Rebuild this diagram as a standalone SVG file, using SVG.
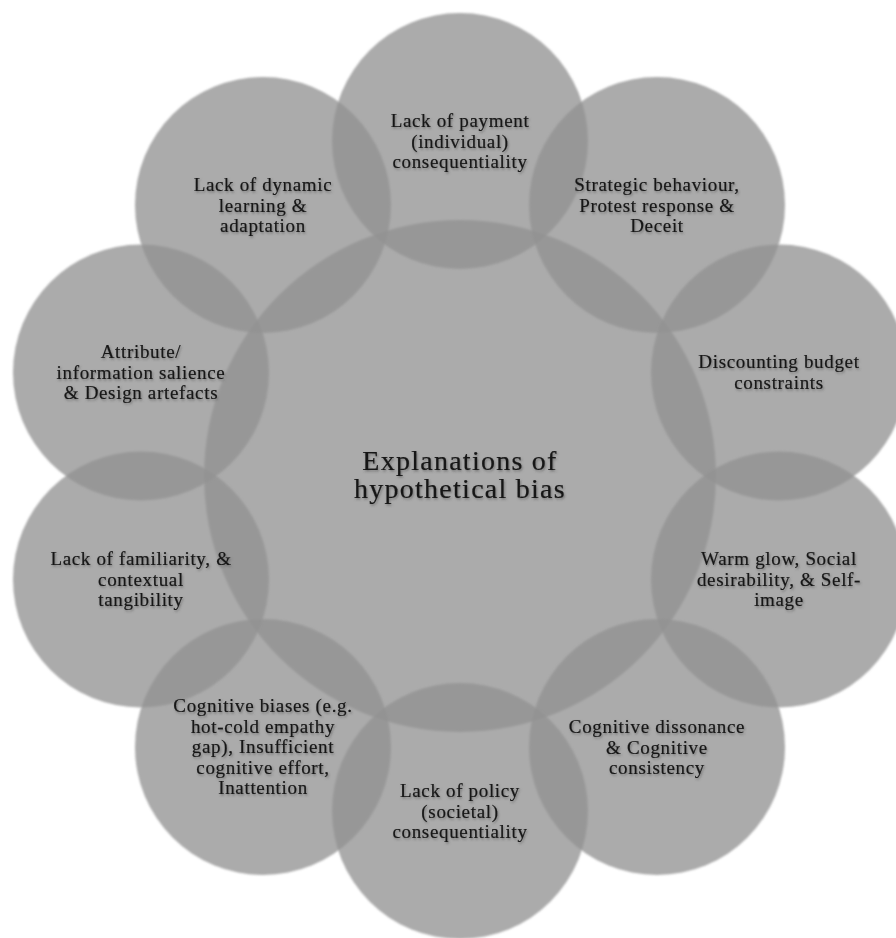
<svg xmlns="http://www.w3.org/2000/svg" width="896" height="938" viewBox="0 0 896 938">
<defs>
<filter id="soft" x="-10%" y="-10%" width="120%" height="120%">
<feGaussianBlur stdDeviation="1.1"/>
</filter>
<filter id="tshadow" x="-10%" y="-30%" width="120%" height="160%">
<feDropShadow dx="1" dy="1.5" stdDeviation="1" flood-color="#4a4a4a" flood-opacity="0.55"/>
</filter>
</defs>
<style>
.c{fill:#929292;fill-opacity:0.77;filter:url(#soft);}
.t{font-family:"Liberation Serif","Times New Roman",serif;font-size:19px;letter-spacing:0.035em;fill:#141414;stroke:#141414;stroke-width:0.2;text-anchor:middle;filter:url(#tshadow);}
.big{font-size:28px;letter-spacing:0.045em;}
</style>
<rect width="896" height="938" fill="#ffffff"/>
<g id="center">
<circle class="c" cx="460" cy="476" r="256"/>
</g>
<g id="n1"><circle class="c" cx="460" cy="141" r="128"/></g>
<g id="n2"><circle class="c" cx="657" cy="205" r="128"/></g>
<g id="n3"><circle class="c" cx="779" cy="372.5" r="128"/></g>
<g id="n4"><circle class="c" cx="779" cy="579.5" r="128"/></g>
<g id="n5"><circle class="c" cx="657" cy="747" r="128"/></g>
<g id="n6"><circle class="c" cx="460" cy="811" r="128"/></g>
<g id="n7"><circle class="c" cx="263" cy="747" r="128"/></g>
<g id="n8"><circle class="c" cx="141" cy="579.5" r="128"/></g>
<g id="n9"><circle class="c" cx="141" cy="372.5" r="128"/></g>
<g id="n10"><circle class="c" cx="263" cy="205" r="128"/></g>
<g id="labels">
<text class="t big" x="460" y="470">Explanations of</text>
<text class="t big" x="460" y="498">hypothetical bias</text>

<text class="t" x="460" y="127">Lack of payment</text>
<text class="t" x="460" y="147.5">(individual)</text>
<text class="t" x="460" y="168">consequentiality</text>

<text class="t" x="657" y="191">Strategic behaviour,</text>
<text class="t" x="657" y="211.5">Protest response &amp;</text>
<text class="t" x="657" y="232">Deceit</text>

<text class="t" x="779" y="368">Discounting budget</text>
<text class="t" x="779" y="388.5">constraints</text>

<text class="t" x="779" y="565">Warm glow, Social</text>
<text class="t" x="779" y="585.5">desirability, &amp; Self-</text>
<text class="t" x="779" y="606">image</text>

<text class="t" x="657" y="733">Cognitive dissonance</text>
<text class="t" x="657" y="753.5">&amp; Cognitive</text>
<text class="t" x="657" y="774">consistency</text>

<text class="t" x="460" y="797">Lack of policy</text>
<text class="t" x="460" y="817.5">(societal)</text>
<text class="t" x="460" y="838">consequentiality</text>

<text class="t" x="263" y="712">Cognitive biases (e.g.</text>
<text class="t" x="263" y="732.5">hot-cold empathy</text>
<text class="t" x="263" y="753">gap), Insufficient</text>
<text class="t" x="263" y="773.5">cognitive effort,</text>
<text class="t" x="263" y="794">Inattention</text>

<text class="t" x="141" y="565">Lack of familiarity, &amp;</text>
<text class="t" x="141" y="585.5">contextual</text>
<text class="t" x="141" y="606">tangibility</text>

<text class="t" x="141" y="358">Attribute/</text>
<text class="t" x="141" y="378.5">information salience</text>
<text class="t" x="141" y="399">&amp; Design artefacts</text>

<text class="t" x="263" y="191">Lack of dynamic</text>
<text class="t" x="263" y="211.5">learning &amp;</text>
<text class="t" x="263" y="232">adaptation</text>
</g>
</svg>
